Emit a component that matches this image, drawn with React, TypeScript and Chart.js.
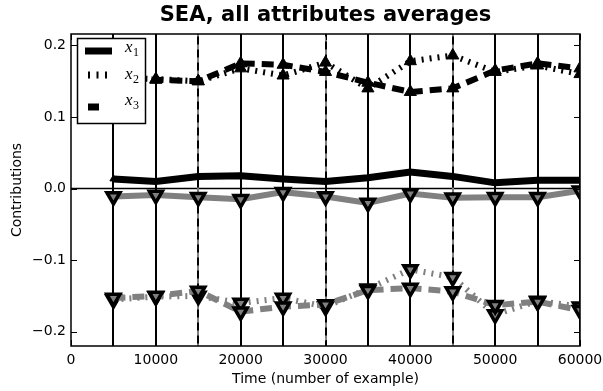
import React, { useEffect, useRef } from 'react';
import { Chart, registerables } from 'chart.js';

Chart.register(...registerables);

// ---- data ----
const times = [5000, 10000, 15000, 20000, 25000, 30000, 35000, 40000, 45000, 50000, 55000, 60000];
const x1Pos = [0.0135, 0.010, 0.017, 0.018, 0.0135, 0.010, 0.015, 0.023, 0.017, 0.008, 0.0117, 0.0117];
const x1Neg = [-0.011, -0.009, -0.012, -0.015, -0.005, -0.011, -0.020, -0.007, -0.013, -0.012, -0.012, -0.003];
const x2Pos = [0.155, 0.153, 0.150, 0.168, 0.158, 0.176, 0.140, 0.178, 0.186, 0.163, 0.172, 0.160];
const x2Neg = [-0.155, -0.151, -0.150, -0.160, -0.153, -0.165, -0.140, -0.113, -0.124, -0.176, -0.157, -0.165];
const x3Pos = [0.155, 0.152, 0.150, 0.175, 0.173, 0.163, 0.148, 0.135, 0.140, 0.165, 0.175, 0.168];
const x3Neg = [-0.153, -0.150, -0.143, -0.172, -0.165, -0.162, -0.142, -0.139, -0.144, -0.163, -0.158, -0.170];
const errHalf = [0.45, 0.45, 0.45, 0.45, 0.45, 0.45, 0.45, 0.45, 0.45, 0.45, 0.45, 0.45];
const errStyle = ['solid', 'solid', 'mixed', 'solid', 'solid', 'mixed', 'solid', 'solid', 'mixed', 'solid', 'solid', 'solid'];
const xTicks = [0, 10000, 20000, 30000, 40000, 50000, 60000];
const yTicks = [-0.2, -0.1, 0.0, 0.1, 0.2];
const legendNames = ['x_1', 'x_2', 'x_3'];
const titleText = 'SEA, all attributes averages';
const xTitle = 'Time (number of example)';
const yTitle = 'Contributions';

const BLACK = '#000000';
const GRAY = '#808080';
const DOT = [2, 6];
const DASH = [12, 7];

const pts = (vals: number[]) => vals.map((v, i) => ({ x: times[i], y: v }));

const errorPlugin = {
  id: 'errbars',
  beforeDatasetsDraw(chart: any) {
    const { ctx, chartArea, scales } = chart;
    const xs = scales.x, ys = scales.y;
    ctx.save();
    ctx.beginPath();
    ctx.rect(chartArea.left, chartArea.top, chartArea.right - chartArea.left, chartArea.bottom - chartArea.top);
    ctx.clip();
    ctx.strokeStyle = BLACK;
    ctx.lineWidth = 1.5;
    const y0 = ys.getPixelForValue(0);
    ctx.beginPath();
    ctx.moveTo(chartArea.left, y0);
    ctx.lineTo(chartArea.right, y0);
    ctx.stroke();
    times.forEach((t, i) => {
      const px = Math.round(xs.getPixelForValue(t));
      const ya = ys.getPixelForValue(x1Pos[i] - errHalf[i]);
      const yb = ys.getPixelForValue(x1Pos[i] + errHalf[i]);
      ctx.lineWidth = 2;
      if (errStyle[i] === 'mixed') {
        ctx.setLineDash([]);
        ctx.strokeStyle = GRAY;
        ctx.beginPath(); ctx.moveTo(px, ya); ctx.lineTo(px, yb); ctx.stroke();
        ctx.setLineDash([8, 5]);
        ctx.strokeStyle = BLACK;
        ctx.beginPath(); ctx.moveTo(px, yb); ctx.lineTo(px, ya); ctx.stroke();
        ctx.setLineDash([]);
      } else {
        ctx.strokeStyle = BLACK;
        ctx.beginPath(); ctx.moveTo(px, ya); ctx.lineTo(px, yb); ctx.stroke();
      }
    });
    ctx.restore();
  },
};

const framePlugin = {
  id: 'frame',
  afterDatasetsDraw(chart: any) {
    const { ctx, chartArea, scales } = chart;
    const { left, right, top, bottom } = chartArea;
    ctx.save();
    ctx.strokeStyle = BLACK;
    ctx.lineWidth = 1.5;
    ctx.setLineDash([]);
    ctx.strokeRect(left, top, right - left, bottom - top);
    ctx.lineWidth = 1;
    const L = 6;
    xTicks.forEach((v) => {
      const px = Math.round(scales.x.getPixelForValue(v)) + 0.5;
      ctx.beginPath();
      ctx.moveTo(px, bottom); ctx.lineTo(px, bottom - L);
      ctx.moveTo(px, top); ctx.lineTo(px, top + L);
      ctx.stroke();
    });
    yTicks.forEach((v) => {
      const py = Math.round(scales.y.getPixelForValue(v)) + 0.5;
      ctx.beginPath();
      ctx.moveTo(left, py); ctx.lineTo(left + L, py);
      ctx.moveTo(right, py); ctx.lineTo(right - L, py);
      ctx.stroke();
    });
    // title centred over the plot area
    ctx.fillStyle = BLACK;
    ctx.font = 'bold 21px "DejaVu Sans", sans-serif';
    ctx.textAlign = 'center';
    ctx.textBaseline = 'middle';
    ctx.fillText(titleText, (left + right) / 2, 16);
    ctx.restore();
  },
};

const legendPlugin = {
  id: 'boxLegend',
  afterDraw(chart: any) {
    const ctx = chart.ctx;
    ctx.save();
    ctx.fillStyle = '#ffffff';
    ctx.fillRect(77.5, 38.5, 68, 85);
    ctx.strokeStyle = BLACK;
    ctx.lineWidth = 1.5;
    ctx.strokeRect(77.5, 38.5, 68, 85);
    const rows = [
      { y: 51, dash: [] as number[], off: 0, base: 52 },
      { y: 75, dash: [2, 6.5], off: -3, base: 79 },
      { y: 107, dash: [11, 30], off: -3, base: 105 },
    ];
    rows.forEach((r, i) => {
      ctx.setLineDash(r.dash);
      ctx.lineDashOffset = r.off;
      ctx.lineCap = 'butt';
      ctx.lineWidth = 7;
      ctx.strokeStyle = BLACK;
      ctx.beginPath();
      ctx.moveTo(85, r.y);
      ctx.lineTo(112, r.y);
      ctx.stroke();
      ctx.setLineDash([]);
      ctx.lineDashOffset = 0;
      const [base, sub] = legendNames[i].split('_');
      ctx.fillStyle = BLACK;
      ctx.textBaseline = 'alphabetic';
      ctx.textAlign = 'left';
      ctx.font = 'italic 17px "Liberation Serif"';
      ctx.fillText(base, 125, r.base);
      const w = ctx.measureText(base).width;
      ctx.font = '12px "Liberation Serif"';
      ctx.fillText(sub, 125 + w + 0.5, r.base + 4);
    });
    ctx.restore();
  },
};

export default function App() {
  const ref = useRef<HTMLCanvasElement | null>(null);
  useEffect(() => {
    if (!ref.current) return;
    const font = { family: '"DejaVu Sans", sans-serif', size: 14 };
    const down = {
      pointStyle: 'triangle', pointRotation: 180, pointRadius: 7.5, pointBackgroundColor: GRAY,
      pointBorderColor: BLACK, pointBorderWidth: 3.5,
    };
    const up = {
      pointStyle: 'triangle', pointRadius: 7, pointBackgroundColor: BLACK, pointBorderColor: BLACK,
      pointBorderWidth: 1,
    };
    const chart = new Chart(ref.current, {
      type: 'line',
      data: {
        datasets: [
          { label: 'x1', data: pts(x1Pos), borderColor: BLACK, borderWidth: 7, ...up, pointRadius: 4, order: 6 },
          { label: 'x1 neg', data: pts(x1Neg), borderColor: GRAY, borderWidth: 6, ...down, order: 5 },
          { label: 'x2', data: pts(x2Pos), borderColor: BLACK, borderWidth: 6, borderDash: DOT, ...up, order: 4 },
          { label: 'x2 neg', data: pts(x2Neg), borderColor: GRAY, borderWidth: 6, borderDash: DOT, ...down, order: 3 },
          { label: 'x3', data: pts(x3Pos), borderColor: BLACK, borderWidth: 6, borderDash: DASH, ...up, order: 2 },
          { label: 'x3 neg', data: pts(x3Neg), borderColor: GRAY, borderWidth: 6, borderDash: DASH, ...down, order: 1 },
        ],
      },
      options: {
        animation: false,
        responsive: false,
        devicePixelRatio: 1,
        layout: { padding: { left: 0, right: 23, top: 34, bottom: 0 } },
        plugins: {
          legend: { display: false },
          tooltip: { enabled: false },
          title: { display: false },
        },
        elements: { line: { tension: 0, borderCapStyle: 'butt', borderJoinStyle: 'miter' } },
        scales: {
          x: {
            type: 'linear', min: 0, max: 60000,
            grid: { display: false, drawTicks: false },
            border: { display: false },
            ticks: { color: BLACK, font, padding: 6, maxRotation: 0, autoSkip: false, callback: (v: any) => String(v) },
            afterBuildTicks: (s: any) => { s.ticks = xTicks.map((v) => ({ value: v })); },
            afterFit: (s: any) => { s.height = 45; s.paddingLeft = 0; s.paddingRight = 0; },
            title: { display: true, text: xTitle, color: BLACK, font, padding: { top: 0, bottom: 3 } },
          },
          y: {
            type: 'linear', min: -0.22, max: 0.216,
            grid: { display: false, drawTicks: false },
            border: { display: false },
            ticks: {
              color: BLACK, font, padding: 5, autoSkip: false,
              callback: (v: any) => Number(v).toFixed(1).replace('-', '\u2212'),
            },
            afterBuildTicks: (s: any) => { s.ticks = yTicks.map((v) => ({ value: v })); },
            afterFit: (s: any) => { s.width = 71; s.paddingTop = 0; s.paddingBottom = 0; },
            title: { display: true, text: yTitle, color: BLACK, font, padding: { top: 9, bottom: 0 } },
          },
        },
      } as any,
      plugins: [errorPlugin, framePlugin, legendPlugin],
    });
    return () => chart.destroy();
  }, []);
  return (
    <div style={{ position: 'fixed', left: 0, top: 0, width: 603, height: 391, background: '#fff' }}>
      <canvas ref={ref} width={603} height={391} />
    </div>
  );
}
